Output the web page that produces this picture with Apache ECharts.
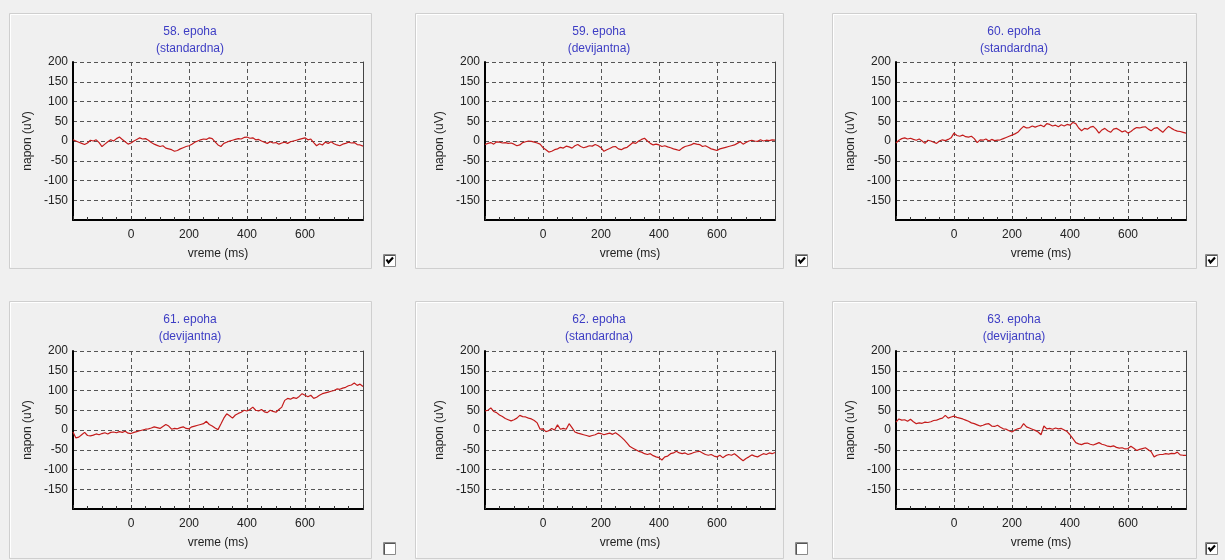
<!DOCTYPE html>
<html>
<head>
<meta charset="utf-8">
<title>Epohe</title>
<script src="https://cdn.jsdelivr.net/npm/echarts@6/dist/echarts.min.js"></script>
<style>
  html, body { margin: 0; padding: 0; background: #f0f0f0; }
  #chart { width: 1225px; height: 560px; }
</style>
</head>
<body>
<div id="chart"></div>
<script>
// Sampling times (ms) for every epoch trace
const vremeMs = [
  -200,-190,-180,-170,-160,-150,-140,-130,-120,-110,
  -100,-90,-80,-70,-60,-50,-40,-30,-20,-10,
  0,10,20,30,40,50,60,70,80,90,
  100,110,120,130,140,150,160,170,180,190,
  200,210,220,230,240,250,260,270,280,290,
  300,310,320,330,340,350,360,370,380,390,
  400,410,420,430,440,450,460,470,480,490,
  500,510,520,530,540,550,560,570,580,590,
  600,610,620,630,640,650,660,670,680,690,
  700,710,720,730,740,750,760,770,780,790,
  800
];

// Voltage (uV) per epoch
const epoha58 = [
  3,0,-3,-6,-9,-5,2,0,3,-4,
  -14,-8,-2,3,0,6,10,4,-2,-8,
  -5,0,4,8,5,6,2,-4,-8,-11,
  -14,-12,-18,-20,-22,-26,-24,-20,-17,-14,
  -12,-8,-3,0,3,5,4,8,6,-2,
  -10,-14,-6,-3,0,2,4,6,5,9,
  10,7,8,3,4,0,-3,-6,-2,-5,
  -4,-8,-5,-3,-6,-2,0,2,4,6,
  8,3,5,-4,-12,-7,-10,-3,-6,-2,
  -7,-10,-12,-8,-6,-3,-5,-4,-9,-10,
  -13
];
const epoha59 = [
  -9,-6,-4,-8,-2,-3,-5,-4,-6,-5,
  -8,-12,-10,-4,-2,0,-1,-3,-5,-8,
  -17,-22,-28,-26,-22,-20,-16,-18,-13,-15,
  -18,-12,-9,-14,-17,-15,-12,-13,-9,-12,
  -17,-26,-22,-19,-15,-14,-20,-22,-18,-16,
  -10,-4,-6,0,4,7,0,-6,-10,-8,
  -10,-14,-12,-15,-17,-20,-22,-24,-18,-14,
  -12,-10,-6,-8,-9,-14,-12,-16,-20,-22,
  -24,-20,-18,-16,-14,-12,-10,-6,-2,-8,
  -4,0,2,0,-1,3,0,2,1,3,
  2
];
const epoha60 = [
  -5,2,6,8,5,7,4,2,5,0,
  -6,2,0,-3,-6,0,3,1,4,8,
  20,14,12,15,11,10,12,6,-4,3,
  2,5,0,4,1,2,3,6,9,12,
  15,18,22,30,37,33,34,38,35,38,
  40,36,44,42,38,40,36,41,38,42,
  40,47,44,33,26,32,30,35,37,30,
  20,28,32,26,22,30,32,28,23,26,
  20,24,30,34,33,35,36,30,26,32,
  34,28,22,30,37,32,28,25,24,22,
  20
];
const epoha61 = [
  -5,-20,-18,-12,-6,-14,-15,-13,-10,-12,
  -9,-7,-10,-6,-5,-7,-4,-6,-3,-8,
  -9,-6,-4,-2,0,2,3,5,8,6,
  4,9,14,10,2,4,3,6,8,4,
  3,8,10,12,14,16,22,14,10,5,
  1,15,30,41,36,30,38,42,45,50,
  48,52,58,50,48,52,46,44,50,47,
  45,52,58,75,80,78,82,80,85,92,
  88,84,88,80,83,88,92,94,96,98,
  100,104,103,106,108,112,114,119,113,116,
  110
];
const epoha62 = [
  48,50,56,47,44,38,34,29,26,23,
  26,30,37,34,33,30,28,24,18,2,
  3,-4,-2,4,0,13,2,4,2,16,
  6,-5,-8,-10,-12,-14,-16,-14,-12,-8,
  -9,-12,-10,-8,-11,-7,-12,-18,-25,-33,
  -42,-46,-50,-54,-56,-60,-62,-60,-65,-68,
  -70,-76,-68,-66,-60,-58,-54,-58,-60,-58,
  -62,-60,-57,-55,-54,-58,-62,-64,-62,-66,
  -68,-64,-70,-65,-62,-64,-60,-66,-72,-78,
  -72,-68,-63,-66,-68,-64,-60,-62,-58,-60,
  -57
];
const epoha63 = [
  20,28,25,26,22,27,21,16,18,17,
  20,19,21,24,25,28,30,37,30,33,
  35,32,30,28,25,22,18,16,13,10,
  12,15,16,10,9,12,7,3,2,-2,
  -5,0,3,5,16,8,5,2,-1,-5,
  -12,10,3,4,2,5,3,4,0,-4,
  -12,-22,-32,-35,-37,-34,-33,-36,-38,-35,
  -32,-36,-38,-41,-42,-40,-44,-46,-45,-48,
  -47,-41,-46,-52,-49,-47,-45,-50,-55,-68,
  -64,-62,-62,-60,-61,-59,-60,-56,-63,-64,
  -64
];

const naslovi = ['58. epoha', '59. epoha', '60. epoha', '61. epoha', '62. epoha', '63. epoha'];
const tipovi = ['(standardna)', '(devijantna)', '(standardna)', '(devijantna)', '(standardna)', '(devijantna)'];
const oznaceno = [true, true, true, false, false, true];
const serije = [epoha58, epoha59, epoha60, epoha61, epoha62, epoha63];

// ---- layout of the 2 x 3 panel grid ----
const plotLeft = [73, 485, 896];
const plotTop = [62, 351];
const plotW = 290, plotH = 158;
const boxLeft = [9, 415, 832];
const boxRight = [371, 783, 1196];
const boxTop = [13, 301];
const boxBottom = [268, 558];
const titleTop = [24, 312];
const chkLeft = [383, 795, 1205];
const chkTop = [254, 542];

const FONT = 'Liberation Sans, Arial, sans-serif';
const gridDash = { color: '#555', width: 1, type: [4, 3] };

const grids = [], xAxes = [], yAxes = [], series = [], titles = [], graphics = [];

for (let i = 0; i < 6; i++) {
  const c = i % 3, r = Math.floor(i / 3);

  // panel frame
  graphics.push({
    type: 'rect', z: -10, silent: true,
    shape: { x: boxLeft[c] + 0.5, y: boxTop[r] + 0.5, width: boxRight[c] - boxLeft[c], height: boxBottom[r] - boxTop[r] },
    style: { fill: '#f0f0f0', stroke: '#cfcfcf', lineWidth: 1 }
  });
  graphics.push({
    type: 'polyline', z: -9, silent: true,
    shape: { points: [[boxLeft[c] + 1.5, boxBottom[r] - 0.5], [boxLeft[c] + 1.5, boxTop[r] + 1.5], [boxRight[c] - 0.5, boxTop[r] + 1.5]] },
    style: { stroke: '#ffffff', lineWidth: 1, fill: null }
  });

  // check box next to each panel
  const bx = chkLeft[c], by = chkTop[r];
  graphics.push({
    type: 'rect', silent: true,
    shape: { x: bx + 0.5, y: by + 0.5, width: 12, height: 12 },
    style: { fill: '#ffffff', stroke: '#8a8a8a', lineWidth: 1 }
  });
  graphics.push({
    type: 'polyline', silent: true,
    shape: { points: [[bx + 1.5, by + 12.5], [bx + 1.5, by + 1.5], [bx + 12, by + 1.5]] },
    style: { stroke: '#555555', lineWidth: 1, fill: null }
  });
  if (oznaceno[i]) {
    graphics.push({
      type: 'polyline', silent: true,
      shape: { points: [[bx + 3.5, by + 5.5], [bx + 5.5, by + 8.5], [bx + 10, by + 3.5]] },
      style: { stroke: '#000000', lineWidth: 2.2, fill: null }
    });
  }

  titles.push({
    text: naslovi[i] + '\n' + tipovi[i],
    left: (boxLeft[c] + boxRight[c]) / 2,
    top: titleTop[r] - 1,
    textAlign: 'center',
    padding: 0,
    textStyle: { color: '#3d3dc4', fontSize: 12, fontWeight: 'normal', fontFamily: FONT, lineHeight: 17 }
  });

  grids.push({
    left: plotLeft[c], top: plotTop[r], width: plotW, height: plotH,
    show: true, backgroundColor: '#f5f5f5', borderWidth: 0
  });

  xAxes.push({
    type: 'value', gridIndex: i, min: -200, max: 800, interval: 200,
    name: 'vreme (ms)', nameLocation: 'middle', nameGap: 28,
    nameTextStyle: { color: '#222', fontSize: 12, fontFamily: FONT },
    axisLine: { show: true, onZero: false, lineStyle: { color: '#000', width: 2 } },
    axisTick: { show: true, inside: true, length: 4, lineStyle: { color: '#333' } },
    minorTick: { show: true, splitNumber: 4, length: 3, lineStyle: { color: '#333' } },
    axisLabel: { show: true, showMinLabel: false, showMaxLabel: false, margin: 9, color: '#222', fontSize: 12, fontFamily: FONT },
    splitLine: { show: true, lineStyle: gridDash }
  });

  yAxes.push({
    type: 'value', gridIndex: i, min: -200, max: 200, interval: 50, position: 'left',
    name: 'napon (uV)', nameLocation: 'middle', nameGap: 39, nameRotate: 90,
    nameTextStyle: { color: '#222', fontSize: 12, fontFamily: FONT },
    axisLine: { show: true, onZero: false, lineStyle: { color: '#000', width: 2 } },
    axisTick: { show: false },
    axisLabel: { show: true, showMinLabel: false, margin: 5, color: '#222', fontSize: 12, fontFamily: FONT },
    splitLine: { show: true, lineStyle: gridDash }
  });
  yAxes.push({
    type: 'value', gridIndex: i, min: -200, max: 200, interval: 50, position: 'right',
    axisLine: { show: true, onZero: false, lineStyle: { color: '#444', width: 1 } },
    axisTick: { show: false }, axisLabel: { show: false }, splitLine: { show: false }
  });

  series.push({
    type: 'line', xAxisIndex: i, yAxisIndex: 2 * i,
    data: vremeMs.map((t, k) => [t, serije[i][k]]),
    showSymbol: false, silent: true,
    lineStyle: { color: '#c41c1c', width: 1.2 }
  });
}

const chart = echarts.init(document.getElementById('chart'), null, { renderer: 'canvas' });
chart.setOption({
  animation: false,
  backgroundColor: '#f0f0f0',
  title: titles,
  grid: grids,
  xAxis: xAxes,
  yAxis: yAxes,
  series: series,
  graphic: graphics
});
</script>
</body>
</html>
